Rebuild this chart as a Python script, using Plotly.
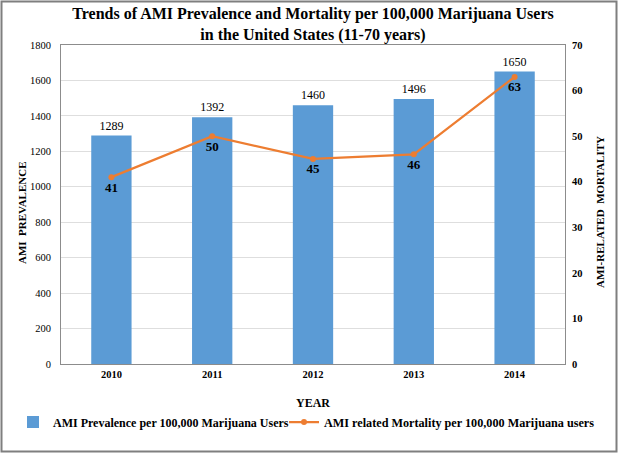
import plotly.graph_objects as go

years = ["2010", "2011", "2012", "2013", "2014"]
prevalence = [1289, 1392, 1460, 1496, 1650]
mortality = [41, 50, 45, 46, 63]

W, H = 618, 453
L, R, T, B = 61, 53, 45, 89
pw, ph = W - L - R, H - T - B

font_family = "Liberation Serif, Times New Roman, serif"


def px_x(x):
    return (x - L) / pw


def px_y(y):
    return (H - B - y) / ph


fig = go.Figure()
fig.add_trace(go.Bar(
    x=years, y=prevalence, name="AMI Prevalence per 100,000 Marijuana Users",
    marker=dict(color="#5B9BD5", line=dict(width=0)),
    text=[str(v) for v in prevalence], textposition="outside",
    textfont=dict(size=12, color="#000", family=font_family),
    cliponaxis=False, legend="legend",
))
fig.add_trace(go.Scatter(
    x=years, y=mortality, name="AMI related Mortality per 100,000 Marijuana users",
    yaxis="y2", mode="lines+markers+text",
    line=dict(color="#ED7D31", width=2.25),
    marker=dict(color="#ED7D31", size=6),
    text=[str(v) for v in mortality], textposition="bottom center",
    textfont=dict(size=13, color="#000", family=font_family, weight="bold"),
    legend="legend2",
))

fig.update_layout(
    width=W, height=H,
    margin=dict(l=L, r=R, t=T, b=B, autoexpand=False),
    paper_bgcolor="white", plot_bgcolor="white",
    font=dict(family=font_family, color="#000"),
    title=dict(
        text="<b>Trends of AMI Prevalence and Mortality per 100,000 Marijuana Users<br>in the United States (11-70 years)</b>",
        x=0.5, xanchor="center", xref="paper", y=1 - 19 / H, yanchor="top", yref="container",
        font=dict(size=16, family=font_family, color="#000"),
        automargin=False,
    ),
    bargap=0.6,
    showlegend=True,
    legend=dict(
        orientation="h", x=px_x(13), xanchor="left", xref="paper",
        y=px_y(422), yanchor="middle", yref="paper",
        font=dict(size=12, family=font_family, color="#000", weight="bold"),
        itemwidth=30, bgcolor="rgba(0,0,0,0)",
    ),
    legend2=dict(
        orientation="h", x=px_x(284), xanchor="left", xref="paper",
        y=px_y(422), yanchor="middle", yref="paper",
        font=dict(size=12.2, family=font_family, color="#000", weight="bold"),
        itemwidth=30, bgcolor="rgba(0,0,0,0)",
    ),
    xaxis=dict(
        title=dict(text="<b>YEAR</b>", font=dict(size=12, family=font_family), standoff=20),
        tickfont=dict(size=10.5, family=font_family, weight="bold"),
        showline=True, linecolor="#8c8c8c", linewidth=1, mirror=True,
        ticks="", showgrid=False, automargin=False,
    ),
    yaxis=dict(
        range=[0, 1800], dtick=200,
        tickfont=dict(size=10.5, family=font_family),
        ticklabelstandoff=7,
        showgrid=True, gridcolor="#dedede", gridwidth=1,
        showline=True, linecolor="#8c8c8c", linewidth=1, mirror=True,
        ticks="", zeroline=False, automargin=False,
    ),
    yaxis2=dict(
        range=[0, 70], dtick=10, overlaying="y", side="right",
        tickfont=dict(size=10.5, family=font_family, weight="bold"),
        ticklabelstandoff=6,
        showgrid=False, zeroline=False, ticks="", automargin=False,
    ),
    annotations=[
        dict(text="<b>AMI  PREVALENCE</b>", textangle=-90, showarrow=False,
             xref="paper", yref="paper", x=px_x(22), y=px_y(213),
             xanchor="center", yanchor="middle",
             font=dict(size=11, family=font_family, color="#000")),
        dict(text="<b>AMI-RELATED  MORTALITY</b>", textangle=-90, showarrow=False,
             xref="paper", yref="paper", x=px_x(600), y=px_y(212),
             xanchor="center", yanchor="middle",
             font=dict(size=11, family=font_family, color="#000")),
    ],
    shapes=[dict(
        type="rect", xref="paper", yref="paper",
        x0=px_x(1.5), x1=px_x(W - 1.5),
        y0=px_y(H - 1.5), y1=px_y(1.5),
        line=dict(color="#7f7f7f", width=2), fillcolor="rgba(0,0,0,0)", layer="below",
    )],
)

fig.write_html("out.html", config={"displayModeBar": False})

# remove default page margin so the figure fills the window exactly
with open("out.html", "r", encoding="utf-8") as f:
    html = f.read()
html = html.replace("<head>", "<head><style>html,body{margin:0;padding:0;overflow:hidden;}</style>", 1)
with open("out.html", "w", encoding="utf-8") as f:
    f.write(html)
